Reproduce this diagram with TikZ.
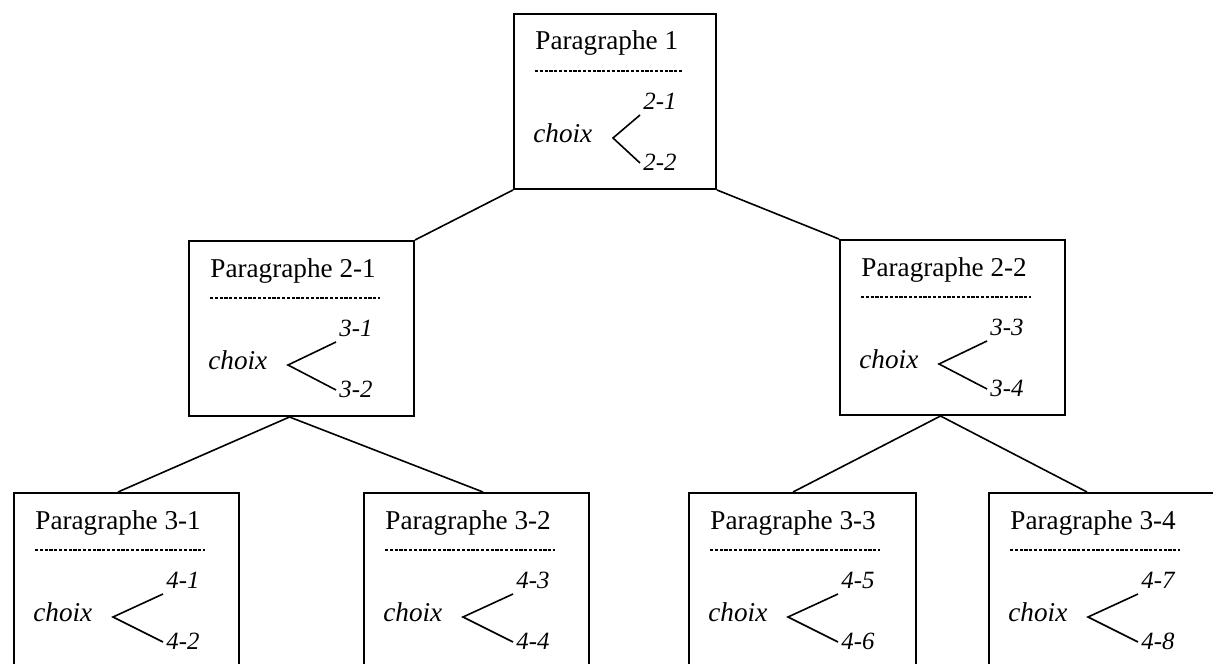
\documentclass[tikz,border=0pt]{standalone}
\usepackage{fontspec}
\setmainfont{Liberation Serif}
\usetikzlibrary{calc}
\tikzset{parbox/.style={draw,rectangle,line width=1pt,inner sep=0pt,anchor=north west},
 ptitle/.style={anchor=base west,inner sep=0pt,font=\fontsize{13.6}{16}\selectfont},
 pchoix/.style={anchor=west,inner sep=0pt,font=\fontsize{13.6}{16}\selectfont\itshape},
 plabel/.style={anchor=west,inner sep=0pt,font=\fontsize{12.4}{14}\selectfont\itshape},
 sep/.style={line width=0.7pt,dash pattern=on 1.6pt off 0.8pt},
 fork/.style={line width=0.8pt},
 link/.style={line width=0.8pt}}
% box: name, x, y, width, height, title, choice a, choice b, fork width
\newcommand{\parag}[9]{%
 \node[parbox,minimum width=#4*0.5pt,minimum height=#5*0.5pt](#1) at(#2,#3){};
 \node[ptitle](#1t) at([shift={(22,37)}]#1.north west){#6};
 \draw[sep]([shift={(22,58)}]#1.north west)--([shift={({min(#4-33,192)},58)}]#1.north west);
 \node[pchoix](#1c) at([shift={(20,120)}]#1.north west){choix};
 \coordinate(#1v) at([shift={(100,125)}]#1.north west);
 \coordinate(#1e) at([shift={(100+#9,102)}]#1.north west);
 \coordinate(#1f) at([shift={(100+#9,150)}]#1.north west);
 \draw[fork](#1e)--(#1v)--(#1f);
 \node[plabel](#1a) at([shift={(103+#9,88)}]#1.north west){#7};
 \node[plabel](#1b) at([shift={(103+#9,149)}]#1.north west){#8};}

\begin{document}
\begin{tikzpicture}[x=0.5pt,y=-0.5pt]
\clip(0,0) rectangle (1213,663);
\parag{p1}{513}{13}{202}{175}{Paragraphe 1}{2-1}{2-2}{27}
\parag{p21}{188}{240}{225}{175}{Paragraphe 2-1}{3-1}{3-2}{48}
\parag{p22}{839}{239}{225}{175}{Paragraphe 2-2}{3-3}{3-4}{48}
\parag{p31}{13}{492}{225}{200}{Paragraphe 3-1}{4-1}{4-2}{50}
\parag{p32}{363}{492}{225}{200}{Paragraphe 3-2}{4-3}{4-4}{50}
\parag{p33}{688}{492}{227}{200}{Paragraphe 3-3}{4-5}{4-6}{50}
\parag{p34}{988}{492}{240}{200}{Paragraphe 3-4}{4-7}{4-8}{50}
% links
\draw[link](p1.south west)--(p21.north east);
\draw[link](p1.south east)--(p22.north west);
\draw[link]([xshift=-6pt]p21.south)--($(p31.north west)+(105,0)$);
\draw[link]([xshift=-6pt]p21.south)--($(p32.north west)+(120,0)$);
\draw[link]([xshift=-6pt]p22.south)--($(p33.north west)+(105,0)$);
\draw[link]([xshift=-6pt]p22.south)--($(p34.north west)+(99,0)$);
\end{tikzpicture}
\end{document}
